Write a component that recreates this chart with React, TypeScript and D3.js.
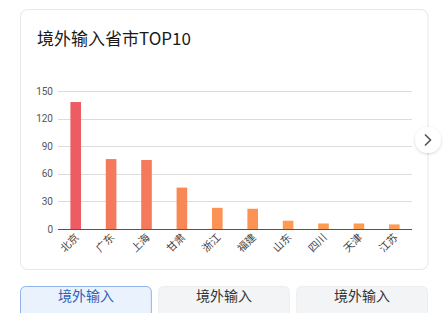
import React from "react";
import * as d3 from "d3";

const categories = ["北京", "广东", "上海", "甘肃", "浙江", "福建", "山东", "四川", "天津", "江苏"];
const values = [138, 76, 75, 45, 23, 22, 9, 6, 6, 5];
const yTicks = [0, 30, 60, 90, 120, 150];
const title = "境外输入省市TOP10";
const buttons = ["境外输入", "境外输入", "境外输入"];

const W = 448;
const H = 313;
const FONT = "'Noto Sans CJK SC', 'Noto Sans', sans-serif";

export default function App() {
  const x = d3.scaleBand<string>().domain(categories).range([58, 412]).padding(0);
  const y = d3.scaleLinear().domain([0, 150]).range([229, 91]);
  const color = d3
    .scaleLinear<string>()
    .domain([0, 138])
    .range(["#ff9e52", "#ec5c62"])
    .interpolate(d3.interpolateRgb);
  const bw = x.bandwidth() * 0.3;

  const btnX = d3.scaleBand<number>().domain([0, 1, 2]).range([20, 428]).paddingInner(0.045);

  return (
    <svg
      width={W}
      height={H}
      style={{ position: "absolute", left: 0, top: 0, fontFamily: FONT, background: "#fff" }}
    >
      <defs>
        <filter id="sh" x="-50%" y="-50%" width="200%" height="200%">
          <feDropShadow dx="0" dy="1" stdDeviation="1.5" floodColor="#000" floodOpacity="0.18" />
        </filter>
      </defs>
      <rect x={20.5} y={9.5} width={407.5} height={260} rx={7} fill="#fff" stroke="#e6e6e6" />
      <text x={37} y={45} fontSize={17} fill="#1a1a1a">{title}</text>

      {yTicks.map((t) => (
        <g key={t}>
          <line
            x1={58}
            x2={412}
            y1={Math.round(y(t)) + 0.5}
            y2={Math.round(y(t)) + 0.5}
            stroke={t === 0 ? "#555" : "#dcdcdc"}
            strokeWidth={1}
          />
          <text
            x={53}
            y={y(t) + 3.5}
            fontSize={10}
            fill="#555"
            textAnchor="end"
            fontFamily="Roboto, sans-serif"
          >
            {t}
          </text>
        </g>
      ))}

      {categories.map((c, i) => {
        const cx = (x(c) as number) + x.bandwidth() / 2;
        return (
          <g key={c}>
            <rect
              x={cx - bw / 2}
              y={y(values[i])}
              width={bw}
              height={y(0) - y(values[i])}
              fill={color(values[i])}
            />
            <text
              transform={`translate(${cx + 4},${238}) rotate(-45)`}
              fontSize={10.5}
              fill="#444"
              textAnchor="end"
            >
              {c}
            </text>
          </g>
        );
      })}

      <g filter="url(#sh)">
        <circle cx={428} cy={140} r={13} fill="#fff" />
      </g>
      <path d="M425,134.5 L430.5,140 L425,145.5" fill="none" stroke="#555" strokeWidth={1.6} />

      {buttons.map((b, i) => {
        const bx = btnX(i) as number;
        const active = i === 0;
        return (
          <g key={i}>
            <rect
              x={bx + 0.5}
              y={286.5}
              width={btnX.bandwidth() - 1}
              height={40}
              rx={5}
              fill={active ? "#eaf2fd" : "#f2f4f6"}
              stroke={active ? "#8fb3ea" : "#eceef0"}
            />
            <text
              x={bx + btnX.bandwidth() / 2}
              y={301}
              fontSize={14}
              textAnchor="middle"
              fill={active ? "#2b63b8" : "#333"}
            >
              {b}
            </text>
          </g>
        );
      })}
    </svg>
  );
}
